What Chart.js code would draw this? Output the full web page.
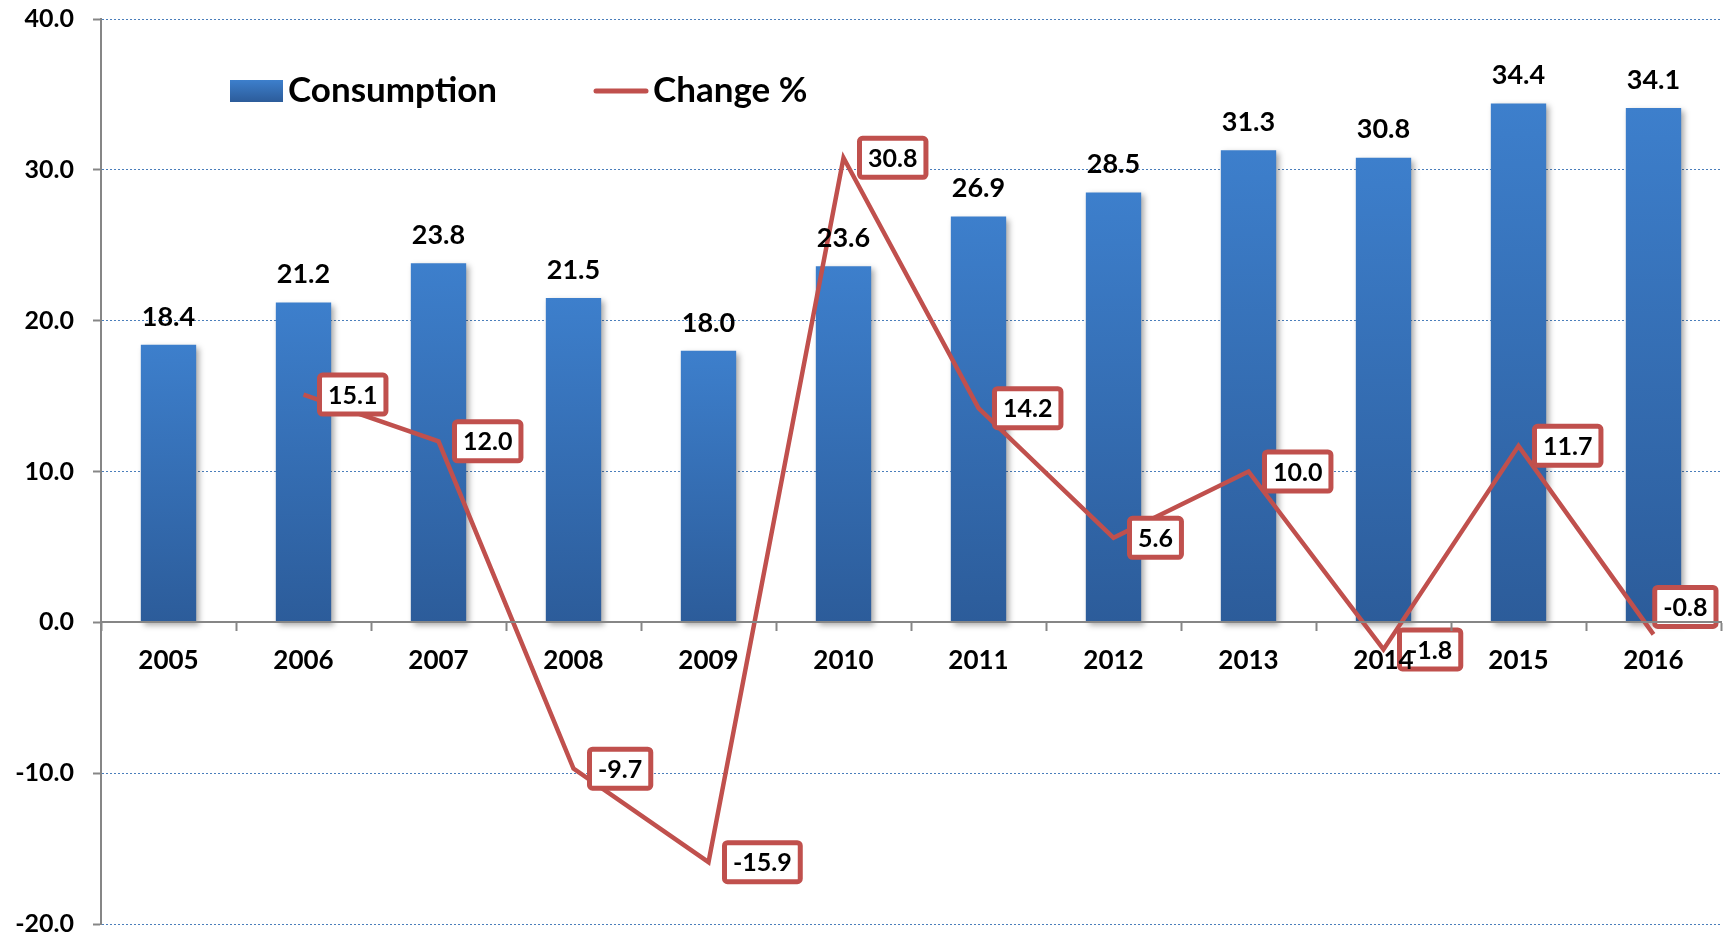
<!DOCTYPE html>
<html><head><meta charset="utf-8">
<script src="https://cdn.jsdelivr.net/npm/chart.js@4.4.1/dist/chart.umd.min.js"></script>
<style>html,body{margin:0;padding:0;background:#fff;}</style>
</head><body>
<canvas id="c" width="1725" height="938" style="display:block;width:1725px;height:938px"></canvas>
<script>
const years = ['2005','2006','2007','2008','2009','2010','2011','2012','2013','2014','2015','2016'];
const consumption = [18.4, 21.2, 23.8, 21.5, 18.0, 23.6, 26.9, 28.5, 31.3, 30.8, 34.4, 34.1];
const changePct = [null, 15.1, 12.0, -9.7, -15.9, 30.8, 14.2, 5.6, 10.0, -1.8, 11.7, -0.8];
const yTicks = [-20, -10, 0, 10, 20, 30, 40];
const seriesNames = ['Consumption', 'Change %'];

const FONT = "Lato, 'Open Sans', sans-serif";
const RED = '#c0504d';
const GRAY = '#868686';
const BLUE_TOP = '#3d7fcc';
const BLUE_BOT = '#2c5c9a';

const shadowPlugin = {
  id: 'shadow',
  beforeDatasetDraw(chart, args) {
    if (args.index === 0) {
      const c = chart.ctx; c.save();
      c.shadowColor = 'rgba(0,0,0,0.35)'; c.shadowBlur = 6; c.shadowOffsetX = 3; c.shadowOffsetY = 3;
    }
  },
  afterDatasetDraw(chart, args) { if (args.index === 0) chart.ctx.restore(); }
};

const labelsPlugin = {
  id: 'labels',
  afterDatasetsDraw(chart) {
    const c = chart.ctx;
    c.save();
    // bar labels
    const barMeta = chart.getDatasetMeta(0);
    c.font = `bold 27px ${FONT}`;
    c.fillStyle = '#000';
    c.textAlign = 'center';
    c.textBaseline = 'middle';
    barMeta.data.forEach((el, i) => {
      c.fillText(consumption[i].toFixed(1), el.x, el.y - 28);
    });
    // line labels in boxes
    const lineMeta = chart.getDatasetMeta(1);
    c.font = `bold 25px ${FONT}`;
    lineMeta.data.forEach((el, i) => {
      const v = changePct[i];
      if (v === null || v === undefined) return;
      const txt = v.toFixed(1);
      const tw = c.measureText(txt).width;
      const w = tw + 17, h = 39;
      let x = el.x + 16, y = el.y - h / 2;
      if (x + w > chart.width - 6) {
        x = chart.width - 9 - w;
        y = el.y - h - 8;
      }
      c.fillStyle = '#fff';
      c.strokeStyle = RED;
      c.lineWidth = 5;
      c.beginPath();
      c.roundRect(x, y, w, h, 3);
      c.fill();
      c.stroke();
      c.fillStyle = '#000';
      c.textAlign = 'center';
      c.textBaseline = 'middle';
      c.fillText(txt, x + w / 2, y + h / 2 + 1);
    });
    // legend
    c.font = `bold 35px ${FONT}`;
    c.textAlign = 'left';
    c.textBaseline = 'middle';
    const g = c.createLinearGradient(0, 80, 0, 102);
    g.addColorStop(0, BLUE_TOP); g.addColorStop(1, BLUE_BOT);
    c.fillStyle = g;
    c.fillRect(230, 80, 53, 22);
    c.fillStyle = '#000';
    c.fillText(seriesNames[0], 288, 91);
    c.strokeStyle = RED; c.lineWidth = 5; c.lineCap = 'round';
    c.beginPath(); c.moveTo(596, 91); c.lineTo(646, 91); c.stroke();
    c.fillText(seriesNames[1], 653, 91);
    c.restore();
  }
};

new Chart(document.getElementById('c'), {
  data: {
    labels: years,
    datasets: [
      {
        type: 'bar',
        label: seriesNames[0],
        data: consumption,
        order: 2,
        barPercentage: 0.41,
        categoryPercentage: 1.0,
        backgroundColor: (ctx) => {
          const chart = ctx.chart;
          if (!chart.chartArea || ctx.type !== 'data') return '#3570b8';
          const ys = chart.scales.y;
          const top = ys.getPixelForValue(ctx.raw), base = ys.getPixelForValue(0);
          const g = chart.ctx.createLinearGradient(0, top, 0, base);
          g.addColorStop(0, BLUE_TOP); g.addColorStop(1, BLUE_BOT);
          return g;
        },
        borderWidth: 0
      },
      {
        type: 'line',
        label: seriesNames[1],
        data: changePct,
        order: 1,
        borderColor: RED,
        borderWidth: 4.5,
        pointRadius: 0,
        tension: 0,
        fill: false
      }
    ]
  },
  options: {
    responsive: false,
    animation: false,
    devicePixelRatio: 1,
    layout: { padding: { left: 0, right: 4, top: 19, bottom: 14 } },
    plugins: { legend: { display: false }, tooltip: { enabled: false } },
    scales: {
      x: {
        position: { y: 0 },
        offset: true,
        grid: { drawOnChartArea: false, drawTicks: true, tickLength: 8, tickColor: GRAY, tickWidth: 2, offset: true, z: 1 },
        border: { display: true, color: GRAY, width: 2, z: 1 },
        ticks: { color: '#000', font: { family: FONT, size: 26, weight: 'bold' }, padding: 15, maxRotation: 0, z: 1 }
      },
      y: {
        min: -20, max: 40,
        afterBuildTicks: (s) => { s.ticks = yTicks.map(v => ({ value: v })); },
        afterFit: (s) => { s.width = 101; s.paddingTop = 10; s.paddingBottom = 10; },
        grid: {
          color: (ctx) => (ctx.tick && ctx.tick.value === 0) ? 'rgba(0,0,0,0)' : '#4a7ebb',
          lineWidth: 1, drawTicks: true, tickLength: 8, tickColor: GRAY, tickWidth: 2
        },
        border: { display: true, color: GRAY, width: 2, dash: [2, 2] },
        ticks: { color: '#000', font: { family: FONT, size: 25, weight: 'bold', lineHeight: 1 }, padding: 19,
                 callback: (v) => Number(v).toFixed(1) }
      }
    }
  },
  plugins: [shadowPlugin, labelsPlugin]
});
</script>
</body></html>
